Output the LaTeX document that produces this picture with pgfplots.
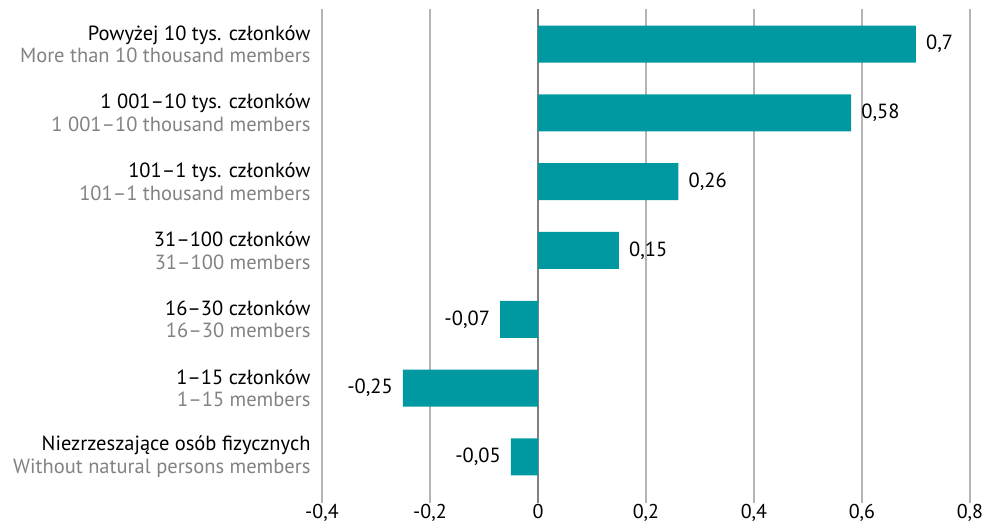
\documentclass[border=0pt]{standalone}
\usepackage{fontspec}
\setmainfont{PT Sans}
\usepackage{pgfplots}
\pgfplotsset{compat=1.18}
\definecolor{barteal}{RGB}{0,153,161}
\definecolor{gridgray}{RGB}{180,180,180}
\definecolor{subgray}{RGB}{130,130,130}
\newcommand{\lab}[2]{#1\\\textcolor{subgray}{#2}}
\begin{document}
\begin{tikzpicture}
\useasboundingbox (-322pt,-22pt) rectangle (663pt,503pt);
\begin{axis}[
    at={(0,0)}, anchor=south west,
    scale only axis, width=648pt, height=494pt,
    xbar, bar width=37pt,
    xmin=-0.4, xmax=0.8, ymin=-0.67, ymax=6.51,
    xtick={-0.4,-0.2,0,0.2,0.4,0.6,0.8},
    ytick={0,1,2,3,4,5,6},
    yticklabels={
      \lab{Niezrzeszające osób fizycznych}{Without natural persons members},
      \lab{1–15 członków}{1–15 members},
      \lab{16–30 członków}{16–30 members},
      \lab{31–100 członków}{31–100 members},
      \lab{101–1 tys. członków}{101–1 thousand members},
      \lab{1 001–10 tys. członków}{1 001–10 thousand members},
      \lab{Powyżej 10 tys. członków}{More than 10 thousand members}},
    yticklabel style={align=right, font=\fontsize{20.5}{22.5}\selectfont, xshift=-8pt},
    xticklabel style={font=\fontsize{20}{22}\selectfont, inner sep=0pt, yshift=-1pt,
      /pgf/number format/.cd, use comma, fixed, assume math mode=true},
    major tick length=0pt,
    axis line style={draw=none},
    xmajorgrids, grid style={gridgray, line width=1.3pt},
    extra x ticks={0}, extra x tick labels={},
    extra x tick style={grid style={gray, line width=1.3pt}},
    nodes near coords,
    nodes near coords align={horizontal},
    point meta=x,
    every node near coord/.append style={black, inner sep=10pt,
      font=\fontsize{20.5}{22}\selectfont,
      /pgf/number format/.cd, use comma, fixed, precision=2, assume math mode=true},
]
\addplot[fill=barteal, draw=none]
  coordinates {(-0.05,0) (-0.25,1) (-0.07,2) (0.15,3) (0.26,4) (0.58,5) (0.7,6)};
\end{axis}
\end{tikzpicture}
\end{document}
